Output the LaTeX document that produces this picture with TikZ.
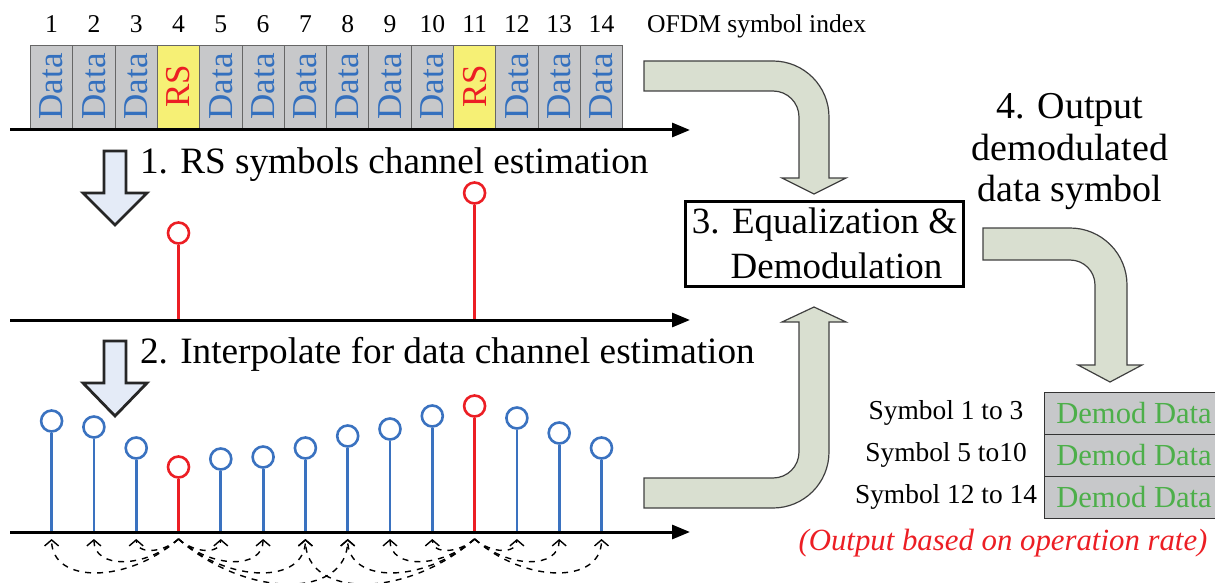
\documentclass[tikz,border=0pt]{standalone}
\usepackage{fontspec}
\setmainfont{Liberation Serif}
\usepackage{tikz}
\usetikzlibrary{arrows.meta, positioning}

\definecolor{cellgray}{RGB}{199,200,202}
\definecolor{rsyellow}{RGB}{246,240,117}
\definecolor{datablue}{RGB}{52,112,190}
\definecolor{stemblue}{RGB}{58,114,192}
\definecolor{rsred}{RGB}{236,30,36}
\definecolor{stepblue}{RGB}{228,235,247}
\definecolor{flowgreen}{RGB}{217,223,208}
\definecolor{demodgreen}{RGB}{77,175,74}

\begin{document}
\begin{tikzpicture}[
                x=0.5pt, y=-0.5pt,
                symbox/.style={draw=black!60, fill=cellgray, rotate=90, minimum width=41.5pt, minimum height=21.15pt, inner sep=0pt, outer sep=0pt, text=datablue, font=\fontsize{17.5}{20}\selectfont},
                rsbox/.style={symbox, fill=rsyellow, text=rsred},
                idx/.style={anchor=base, font=\fontsize{12.8}{15}\selectfont},
                axis/.style={line width=1.5pt, -{Triangle[length=9pt, width=7pt]}},
                note/.style={anchor=base west, font=\fontsize{18.6}{22}\selectfont},
                tap/.style={circle, draw, line width=1.3pt, minimum size=10.5pt, inner sep=0pt, fill=white},
                stem/.style={line width=1.4pt},
                interp/.style={dashed, line width=0.7pt, -{Straight Barb[length=3pt, width=7pt]}},
                downarrow/.style={draw=black!85, line width=1.4pt, fill=stepblue},
                flow/.style={draw=black!75, line width=0.6pt, fill=flowgreen},
                eqbox/.style={draw, line width=1.5pt, fill=white, minimum width=137.5pt, minimum height=42.5pt, align=center, font=\fontsize{18.5}{22.5}\selectfont},
                demodrow/.style={draw=black!80, fill=cellgray, minimum width=90pt, minimum height=21pt, inner sep=0pt, outer sep=0pt, text=demodgreen, font=\fontsize{15.3}{18}\selectfont},
                rowlabel/.style={font=\fontsize{13.7}{16}\selectfont}
            ]
                \clip (0,0) rectangle (1215,583);

                \foreach \i in {1,...,14}
                    \node[idx] (idx\i) at ({51.6+42.3*(\i-1)},33) {\i};
                \node[idx, anchor=base west] (ofdm) at (640,33) {OFDM symbol index};

                \foreach \i/\kind/\word in {1/symbox/Data, 2/symbox/Data, 3/symbox/Data, 4/rsbox/RS, 5/symbox/Data, 6/symbox/Data, 7/symbox/Data, 8/symbox/Data, 9/symbox/Data, 10/symbox/Data, 11/rsbox/RS, 12/symbox/Data, 13/symbox/Data, 14/symbox/Data}
                    \node[\kind] (sym\i) at ({51.6+42.3*(\i-1)},86.5) {\word};

                \node[note] (step1) at (133,173) {1. RS symbols channel estimation};
                \node[note] (step2) at (133,363) {2. Interpolate for data channel estimation};

                \draw[downarrow] (104,151) -- (126,151) -- (126,193) -- (147,193) -- (115,225) -- (83,193) -- (104,193) -- cycle;
                \draw[downarrow] (104,341) -- (126,341) -- (126,383) -- (147,383) -- (115,416) -- (83,383) -- (104,383) -- cycle;

                \coordinate (m4) at (178.5,320);
                \coordinate (m11) at (474.6,320);
                \node[tap, draw=rsred] (est4) at (178.5,233) {};
                \node[tap, draw=rsred] (est11) at (474.6,193) {};
                \draw[stem, rsred] (m4) -- (est4);
                \draw[stem, rsred] (m11) -- (est11);

                \foreach \i/\h/\c in {1/421/stemblue, 2/427/stemblue, 3/448/stemblue, 4/467/rsred, 5/459/stemblue, 6/457/stemblue, 7/448/stemblue, 8/436/stemblue, 9/429/stemblue, 10/416/stemblue, 11/406/rsred, 12/418/stemblue, 13/433/stemblue, 14/448/stemblue}{
                    \coordinate (b\i) at ({51.6+42.3*(\i-1)},532);
                    \coordinate (hook\i) at ({51.6+42.3*(\i-1)},539);
                    \node[tap, draw=\c] (ip\i) at ({51.6+42.3*(\i-1)},\h) {};
                    \draw[stem, \c] (b\i) -- (ip\i);
                }

                \coordinate (top0) at (10,130);
                \coordinate (top1) at (690,130);
                \coordinate (mid0) at (10,320);
                \coordinate (mid1) at (690,320);
                \coordinate (bot0) at (10,532);
                \coordinate (bot1) at (690,532);
                \draw[axis] (top0) -- (top1);
                \draw[axis] (mid0) -- (mid1);
                \draw[axis] (bot0) -- (bot1);

                \foreach \t in {1,2,3,5,6,7,8}{
                    \pgfmathsetmacro{\dx}{42.3*(\t-4)}
                    \pgfmathsetmacro{\dep}{15*abs(\t-4)}
                    \draw[interp] (hook4) .. controls +({0.4*\dx},\dep) and +(0,\dep) .. (hook\t);
                }
                \foreach \t in {7,8,9,10,12,13,14}{
                    \pgfmathsetmacro{\dx}{42.3*(\t-11)}
                    \pgfmathsetmacro{\dep}{15*abs(\t-11)}
                    \draw[interp] (hook11) .. controls +({0.4*\dx},\dep) and +(0,\dep) .. (hook\t);
                }

                \node[eqbox] (eq) at (824.5,243.5) {3. Equalization \&\\\hspace*{12pt}Demodulation};

                \draw[flow] (644,61) -- (773,61) arc[start angle=-90, end angle=0, radius=56] -- (829,178) -- (846,178) -- (814,194) -- (782,178) -- (799,178) -- (799,117) arc[start angle=0, end angle=-90, radius=26] -- (644,91) -- cycle;
                \draw[flow] (644,508) -- (773,508) arc[start angle=90, end angle=0, radius=56] -- (829,322) -- (846,322) -- (814,307) -- (782,322) -- (799,322) -- (799,452) arc[start angle=0, end angle=90, radius=26] -- (644,478) -- cycle;
                \draw[flow] (983,228) -- (1070,228) arc[start angle=-90, end angle=0, radius=57] -- (1127,365) -- (1142,365) -- (1110,382) -- (1078,365) -- (1095,365) -- (1095,285) arc[start angle=0, end angle=-90, radius=25] -- (983,260) -- cycle;

                \node[align=center, font=\fontsize{19}{20.75}\selectfont] (outtxt) at (1070,152) {4. Output\\demodulated\\data symbol};

                \node[demodrow] (row1) at (1134,413) {Demod Data};
                \node[demodrow, below=0pt of row1] (row2) {Demod Data};
                \node[demodrow, below=0pt of row2] (row3) {Demod Data};
                \node[rowlabel] (lab1) at (946,413) {Symbol 1 to 3};
                \node[rowlabel] (lab2) at (946,455) {Symbol 5 to10};
                \node[rowlabel] (lab3) at (946,497) {Symbol 12 to 14};
                \node[text=rsred, font=\itshape\fontsize{15.4}{18}\selectfont] (rate) at (1003,543) {(Output based on operation rate)};
            \end{tikzpicture}
\end{document}
